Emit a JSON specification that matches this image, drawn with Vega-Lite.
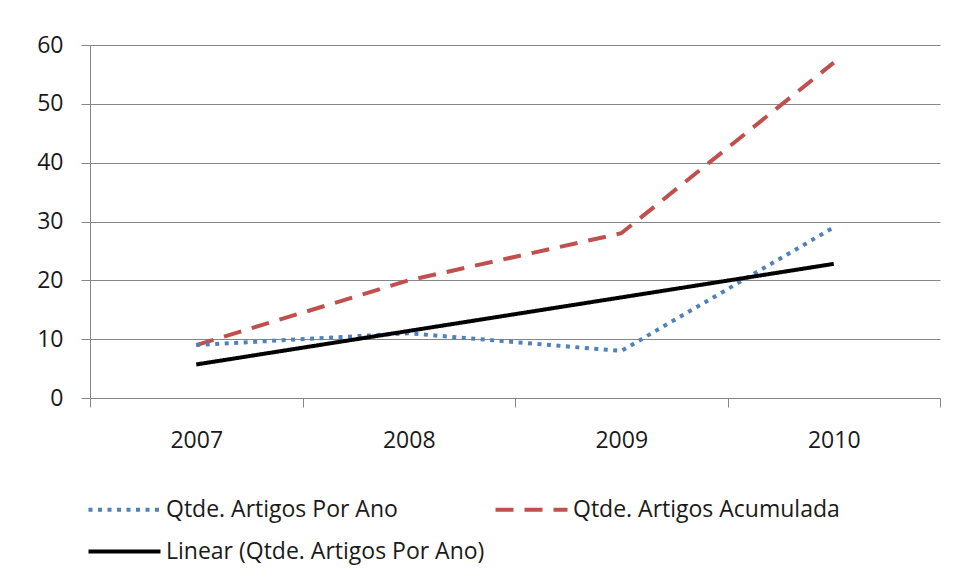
{
  "$schema": "https://vega.github.io/schema/vega-lite/v6.json",
  "width": 850,
  "height": 353,
  "autosize": "none",
  "padding": {"left": 90, "top": 45, "right": 15, "bottom": 188},
  "background": "white",
  "config": {"view": {"stroke": null}, "font": "Open Sans"},
  "data": {
    "values": [
      {"ano": "2007", "serie": "Qtde. Artigos Acumulada", "valor": 9},
      {"ano": "2008", "serie": "Qtde. Artigos Acumulada", "valor": 20},
      {"ano": "2009", "serie": "Qtde. Artigos Acumulada", "valor": 28},
      {"ano": "2010", "serie": "Qtde. Artigos Acumulada", "valor": 57},
      {"ano": "2007", "serie": "Qtde. Artigos Por Ano", "valor": 9},
      {"ano": "2008", "serie": "Qtde. Artigos Por Ano", "valor": 11},
      {"ano": "2009", "serie": "Qtde. Artigos Por Ano", "valor": 8},
      {"ano": "2010", "serie": "Qtde. Artigos Por Ano", "valor": 29},
      {"ano": "2007", "serie": "Linear (Qtde. Artigos Por Ano)", "valor": 5.7},
      {"ano": "2008", "serie": "Linear (Qtde. Artigos Por Ano)", "valor": 11.4},
      {"ano": "2009", "serie": "Linear (Qtde. Artigos Por Ano)", "valor": 17.1},
      {"ano": "2010", "serie": "Linear (Qtde. Artigos Por Ano)", "valor": 22.8}
    ]
  },
  "mark": {"type": "line", "strokeWidth": 4},
  "encoding": {
    "x": {
      "field": "ano",
      "type": "ordinal",
      "bandPosition": 0.5,
      "scale": {"type": "band", "paddingInner": 0, "paddingOuter": 0},
      "axis": {
        "title": null,
        "labelAngle": 0,
        "tickBand": "extent",
        "domainColor": "#868686",
        "tickColor": "#868686",
        "tickSize": 9,
        "labelFont": "Open Sans",
        "labelFontSize": 23,
        "labelColor": "#1a1a1a",
        "labelPadding": 22,
        "grid": false
      }
    },
    "y": {
      "field": "valor",
      "type": "quantitative",
      "scale": {"domain": [0, 60], "nice": false},
      "axis": {
        "title": null,
        "values": [0, 10, 20, 30, 40, 50, 60],
        "grid": true,
        "gridColor": "#868686",
        "domainColor": "#868686",
        "tickColor": "#868686",
        "tickSize": 9,
        "labelFont": "Open Sans",
        "labelFontSize": 23,
        "labelColor": "#1a1a1a",
        "labelPadding": 18
      }
    },
    "color": {
      "field": "serie",
      "type": "nominal",
      "scale": {
        "domain": ["Qtde. Artigos Por Ano", "Linear (Qtde. Artigos Por Ano)", "Qtde. Artigos Acumulada"],
        "range": ["#4F81BD", "#000000", "#C0504D"]
      },
      "legend": {
        "title": null,
        "orient": "none",
        "legendX": 23,
        "legendY": 453,
        "columns": 2,
        "symbolType": "M-4,0H4",
        "symbolSize": 324,
        "symbolStrokeWidth": 4,
        "labelFont": "Open Sans",
        "labelFontSize": 23,
        "labelColor": "#1a1a1a",
        "labelOffset": 30,
        "columnPadding": 2,
        "rowPadding": 18,
        "labelLimit": 500
      }
    },
    "strokeDash": {
      "field": "serie",
      "type": "nominal",
      "scale": {
        "domain": ["Qtde. Artigos Por Ano", "Linear (Qtde. Artigos Por Ano)", "Qtde. Artigos Acumulada"],
        "range": [[4, 5.5], [1, 0], [18, 11]]
      },
      "legend": {
        "title": null,
        "orient": "none",
        "legendX": 23,
        "legendY": 453,
        "columns": 2,
        "symbolType": "M-4,0H4",
        "symbolSize": 324,
        "symbolStrokeWidth": 4,
        "labelFont": "Open Sans",
        "labelFontSize": 23,
        "labelColor": "#1a1a1a",
        "labelOffset": 30,
        "columnPadding": 2,
        "rowPadding": 18,
        "labelLimit": 500
      }
    }
  }
}
